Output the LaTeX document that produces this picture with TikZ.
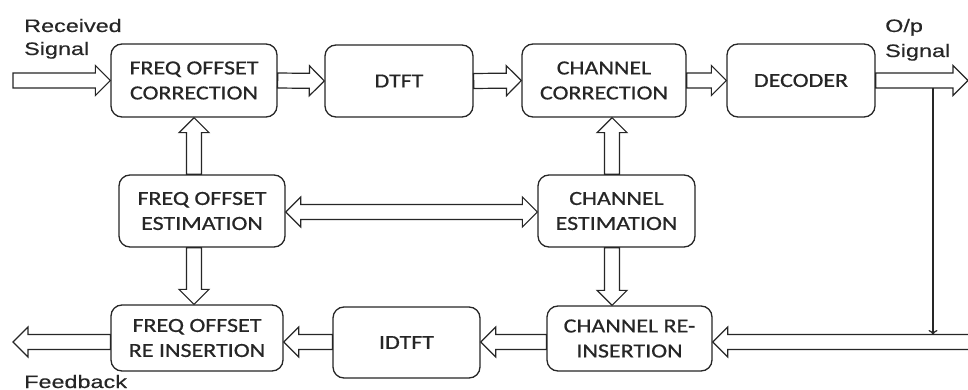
\documentclass[tikz,border=0pt]{standalone}
\usepackage{fontspec}
\usetikzlibrary{calc,arrows.meta}
\newfontfamily\boxfont[FakeStretch=1.2,FakeBold=0.6]{Carlito}
\newfontfamily\lblfont[FakeStretch=1.3,FakeBold=0.4]{Liberation Sans}
\definecolor{ink}{HTML}{262626}
\newcommand\sw{7.5pt}
\newcommand\hw{15pt}
\newcommand\hl{15pt}
% single hollow arrow from #1 to #2
\newcommand\harrow[2]{%
  \draw[hollow] let \p1=#1, \p2=#2, \n1={atan2(\y2-\y1,\x2-\x1)} in
   ($(\p1)+(\n1+90:\sw)$) -- ($(\p2)+(\n1+180:\hl)+(\n1+90:\sw)$)
   -- ($(\p2)+(\n1+180:\hl)+(\n1+90:\hw)$) -- (\p2)
   -- ($(\p2)+(\n1+180:\hl)+(\n1-90:\hw)$) -- ($(\p2)+(\n1+180:\hl)+(\n1-90:\sw)$)
   -- ($(\p1)+(\n1-90:\sw)$) -- cycle;}
% double-headed hollow arrow
\newcommand\hdarrow[2]{%
  \draw[hollow] let \p1=#1, \p2=#2, \n1={atan2(\y2-\y1,\x2-\x1)} in
   ($(\p1)+(\n1:\hl)+(\n1+90:\sw)$) -- ($(\p2)+(\n1+180:\hl)+(\n1+90:\sw)$)
   -- ($(\p2)+(\n1+180:\hl)+(\n1+90:\hw)$) -- (\p2)
   -- ($(\p2)+(\n1+180:\hl)+(\n1-90:\hw)$) -- ($(\p2)+(\n1+180:\hl)+(\n1-90:\sw)$)
   -- ($(\p1)+(\n1:\hl)+(\n1-90:\sw)$) -- ($(\p1)+(\n1:\hl)+(\n1-90:\hw)$)
   -- (\p1) -- ($(\p1)+(\n1:\hl)+(\n1+90:\hw)$) -- cycle;}
\begin{document}
\begin{tikzpicture}[x=1pt,y=-1pt,
  blk/.style={draw=ink, line width=1.3pt, rounded corners=11pt, fill=white,
    align=center, inner sep=0pt, text=ink,
    font=\boxfont\fontsize{20}{25}\selectfont},
  hollow/.style={draw=ink, line width=1.2pt, fill=white, line join=miter},
  lbl/.style={inner sep=0pt, text=ink, align=left,
    font=\lblfont\fontsize{18}{24}\selectfont}]
\useasboundingbox (0,0) rectangle (968,390);
\clip (0,0) rectangle (968,390);
% blocks
\node[blk, minimum width=166pt, minimum height=73pt] (foc)   at (194,80.5)  {FREQ OFFSET\\CORRECTION};
\node[blk, minimum width=148pt, minimum height=72pt] (dtft)  at (399,81)    {DTFT};
\node[blk, minimum width=164pt, minimum height=73pt] (cc)    at (604,80.5)  {CHANNEL\\CORRECTION};
\node[blk, minimum width=148pt, minimum height=73pt] (dec)   at (801,80.5)  {DECODER};
\node[blk, minimum width=166pt, minimum height=72pt] (foe)   at (202,211)   {FREQ OFFSET\\ESTIMATION};
\node[blk, minimum width=157pt, minimum height=72pt] (ce)    at (616.5,211) {CHANNEL\\ESTIMATION};
\node[blk, minimum width=172pt, minimum height=66pt] (fore)  at (197,338)   {FREQ OFFSET\\RE INSERTION};
\node[blk, minimum width=147pt, minimum height=71pt] (idtft) at (406.5,342.5) {IDTFT};
\node[blk, minimum width=165pt, minimum height=65pt] (cre)   at (629.5,338.5) {CHANNEL RE-\\INSERTION};
% helper coordinates
\coordinate (rxin) at (13,80.5);
\coordinate (opout) at (968,80.5);
\coordinate (fbout) at (13,342);
\coordinate (fbin) at (985,342);
\coordinate (chx) at (612,0);
\coordinate (tap) at (933,88);
\coordinate (tapend) at (933,335);
% top row
\harrow{(rxin)}{(foc.west)}
\harrow{(foc.east)}{(dtft.west)}
\harrow{(dtft.east)}{(cc.west)}
\harrow{(cc.east)}{(dec.west)}
\harrow{(dec.east)}{(opout)}
% verticals
\harrow{(foc.south |- foe.north)}{(foc.south)}
\harrow{(foc.south |- foe.south)}{(foc.south |- fore.north)}
\harrow{(chx |- ce.north)}{(chx |- cc.south)}
\harrow{(chx |- ce.south)}{(chx |- cre.north)}
% middle double arrow
\hdarrow{(foe.east |- 0,212)}{(ce.west |- 0,212)}
% bottom row
\harrow{(fbin)}{(cre.east |- fbin)}
\harrow{(cre.west |- fbin)}{(idtft.east |- fbin)}
\harrow{(idtft.west |- fbin)}{(fore.east |- fbin)}
\harrow{(fore.west |- fbin)}{(fbout)}
% tap line
\draw[draw=ink, line width=1.2pt, -{To[length=5pt,width=9pt]}] (tap) -- (tapend);
% labels
\node[lbl, anchor=base west] (rx1) at (24,32) {Received};
\node[lbl, anchor=base west] (rx2) at (24,55) {Signal};
\node[lbl, anchor=base west] (op1) at (885,32) {O/p};
\node[lbl, anchor=base west] (op2) at (885,57) {Signal};
\node[lbl, anchor=base west] (fb)  at (24,388) {Feedback};
\end{tikzpicture}
\end{document}
